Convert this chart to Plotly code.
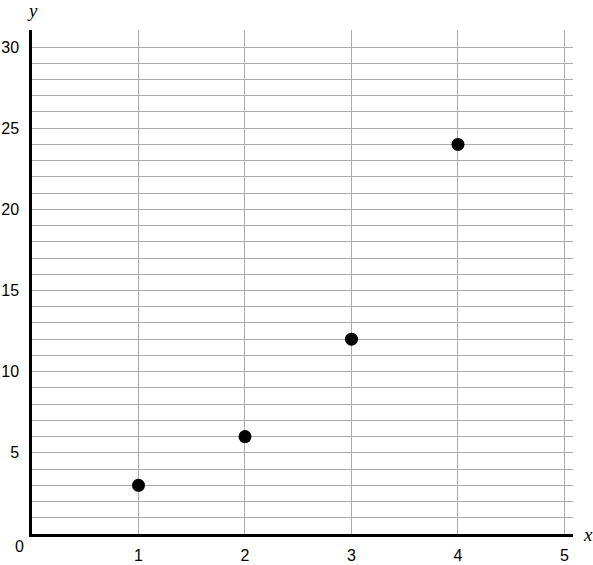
import plotly.graph_objects as go

# Data points
x_vals = [1, 2, 3, 4]
y_vals = [3, 6, 12, 24]

# Tick labels
x_ticks = [1, 2, 3, 4, 5]
y_major = [5, 10, 15, 20, 25, 30]
y_grid = list(range(1, 32))

y_text = [str(v) if v in y_major else "" for v in y_grid]

fig = go.Figure()

fig.add_trace(go.Scatter(
    x=x_vals,
    y=y_vals,
    mode="markers",
    marker=dict(color="black", size=13),
    showlegend=False,
    hoverinfo="x+y",
))

fig.update_layout(
    width=593,
    height=565,
    margin=dict(l=32, r=20, t=30, b=31),
    plot_bgcolor="white",
    paper_bgcolor="white",
    font=dict(family="Liberation Sans, Arial, sans-serif", size=16, color="black"),
)

fig.update_xaxes(
    range=[0, 5.08],
    tickvals=x_ticks,
    ticktext=[str(v) for v in x_ticks],
    showgrid=True,
    gridcolor="#ababab",
    gridwidth=1,
    zeroline=False,
    showline=True,
    linecolor="black",
    linewidth=2.5,
    ticks="",
    ticklabelstandoff=5,
    automargin=False,
)

fig.update_yaxes(
    range=[0, 31.05],
    tickvals=y_grid,
    ticktext=y_text,
    showgrid=True,
    gridcolor="#ababab",
    gridwidth=1,
    zeroline=False,
    showline=True,
    linecolor="black",
    linewidth=2.5,
    ticks="",
    ticklabelstandoff=7,
    automargin=False,
)

# origin label and axis names
fig.add_annotation(x=0, y=0, xref="x", yref="y", text="0", showarrow=False,
                   xanchor="right", yanchor="top", xshift=-6, yshift=-2)
fig.add_annotation(x=0, y=1, xref="x", yref="paper", text="<i>y</i>", showarrow=False,
                   xanchor="center", yanchor="bottom", yshift=7,
                   font=dict(family="Liberation Serif, Times New Roman, serif", size=19))
fig.add_annotation(x=1, y=0, xref="paper", yref="y", text="<i>x</i>", showarrow=False,
                   xanchor="left", yanchor="middle", xshift=8,
                   font=dict(family="Liberation Serif, Times New Roman, serif", size=19))

# drop the default page margin so the figure sits at the window corner
fig.write_html("out.html", config={"displayModeBar": False},
               post_script="document.body.style.margin='0';")
